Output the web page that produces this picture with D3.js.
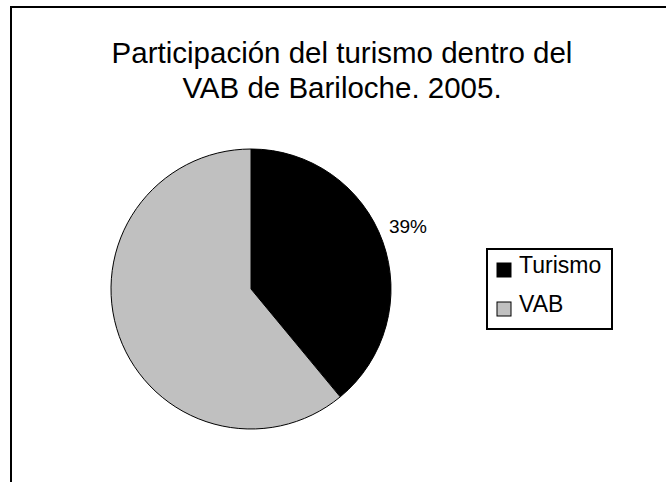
<!DOCTYPE html>
<html>
<head>
<meta charset="utf-8">
<script src="https://cdn.jsdelivr.net/npm/d3@7"></script>
<style>
  body { margin: 0; background: #fff; }
  svg { display: block; font-family: "Liberation Sans", Arial, sans-serif; }
</style>
</head>
<body>
<script>
// datos del grafico
const categories = ['Turismo', 'VAB'];
const values = [39, 61];
const colors = ['#000000', '#c0c0c0'];
const titleLines = ['Participación del turismo dentro del', 'VAB de Bariloche. 2005.'];

function main() {
    const width = 666, height = 482;

    const svg = d3.select('body').append('svg')
        .attr('width', width)
        .attr('height', height);

    // marco del area del grafico (cortado a derecha y abajo)
    svg.append('rect')
        .attr('x', 11).attr('y', 7)
        .attr('width', 700).attr('height', 520)
        .attr('fill', '#fff')
        .attr('stroke', '#000')
        .attr('stroke-width', 2);

    // titulo
    const title = svg.append('g').attr('class', 'title');
    title.selectAll('text')
        .data(titleLines)
        .enter().append('text')
        .attr('x', 342)
        .attr('y', (d, i) => 63 + i * 35)
        .attr('text-anchor', 'middle')
        .style('font-size', '29.5px')
        .text(d => d);

    // torta
    const cx = 251, cy = 289, r = 140;
    const pie = d3.pie().sort(null).value(d => d);
    const arcs = pie(values);
    const arc = d3.arc().innerRadius(0).outerRadius(r);

    const g = svg.append('g').attr('transform', 'translate(' + cx + ',' + cy + ')');
    g.selectAll('path')
        .data(arcs)
        .enter().append('path')
        .attr('d', arc)
        .attr('fill', (d, i) => colors[i])
        .attr('stroke', '#000')
        .attr('stroke-width', 1);

    // etiqueta de porcentaje (solo turismo)
    const total = d3.sum(values);
    const labelArc = d3.arc().innerRadius(r + 30).outerRadius(r + 30);
    const c = labelArc.centroid(arcs[0]);
    g.append('text')
        .attr('x', c[0] - 3)
        .attr('y', c[1] + 2)
        .attr('text-anchor', 'middle')
        .style('font-size', '19px')
        .text(Math.round(values[0] / total * 100) + '%');

    // leyenda
    const legend = svg.append('g').attr('transform', 'translate(487,249)');
    legend.append('rect')
        .attr('width', 125).attr('height', 80)
        .attr('fill', '#fff')
        .attr('stroke', '#000')
        .attr('stroke-width', 2);

    const item = legend.selectAll('g.item')
        .data(categories)
        .enter().append('g')
        .attr('class', 'item')
        .attr('transform', (d, i) => 'translate(10,' + (14 + i * 39) + ')');

    item.append('rect')
        .attr('width', 14).attr('height', 14)
        .attr('fill', (d, i) => colors[i])
        .attr('stroke', '#000')
        .attr('stroke-width', 1);

    item.append('text')
        .attr('x', 22)
        .attr('y', 10)
        .style('font-size', '23px')
        .text(d => d);
}
window.onload = main;
</script>
</body>
</html>
